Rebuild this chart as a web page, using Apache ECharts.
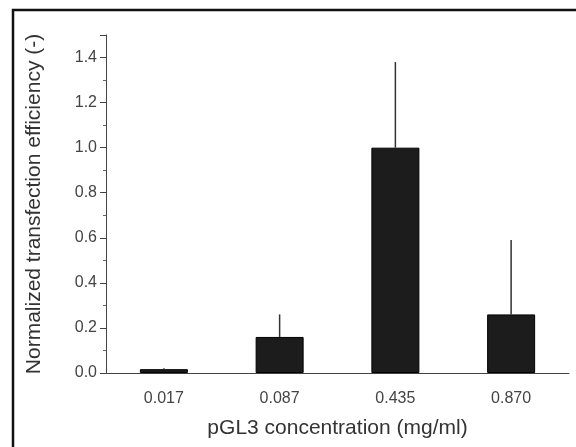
<!DOCTYPE html>
<html>
<head>
<meta charset="utf-8">
<script src="https://cdn.jsdelivr.net/npm/echarts@6/dist/echarts.min.js"></script>
<style>
  html, body { margin: 0; padding: 0; background: #fff; }
  #chart { width: 576px; height: 447px; }
</style>
</head>
<body>
<div id="chart"></div>
<script>
// pGL3 concentration (mg/ml)
var categories = ["0.017", "0.087", "0.435", "0.870"];
// normalized transfection efficiency
var means = [0.017, 0.16, 1.0, 0.26];
// upper error (sd)
var errors = [0.004, 0.10, 0.38, 0.33];

var chart = echarts.init(document.getElementById("chart"));

var font = "Liberation Sans";

var option = {
  animation: false,
  backgroundColor: "#fff",
  grid: { left: 106, right: 7, top: 35, bottom: 74 },
  graphic: [
    {
      type: "rect",
      shape: { x: 13, y: 10, width: 620, height: 520 },
      style: { fill: "none", stroke: "#111", lineWidth: 2.5 },
      z: 100
    }
  ],
  xAxis: [
    {
      type: "category",
      data: categories,
      name: "pGL3 concentration (mg/ml)",
      nameLocation: "middle",
      nameGap: 45,
      nameTextStyle: { fontFamily: font, fontSize: 21, color: "#333" },
      axisLine: { lineStyle: { color: "#444", width: 1 } },
      axisTick: { alignWithLabel: true, length: 6, lineStyle: { color: "#444" } },
      axisLabel: { fontFamily: font, fontSize: 16, color: "#444", margin: 18 },
      splitLine: { show: false }
    },
    {
      type: "category",
      data: categories,
      position: "bottom",
      axisLine: { show: false },
      axisTick: { inside: true, length: 4, lineStyle: { color: "#777" } },
      axisLabel: { show: false },
      splitLine: { show: false }
    }
  ],
  yAxis: {
    type: "value",
    min: 0,
    max: 1.5,
    interval: 0.2,
    name: "Normalized transfection efficiency (-)",
    nameLocation: "middle",
    nameGap: 61,
    nameTextStyle: { fontFamily: font, fontSize: 21, color: "#333" },
    axisLine: { show: true, lineStyle: { color: "#444", width: 1 } },
    axisTick: { show: true, length: 6, lineStyle: { color: "#444" } },
    minorTick: { show: true, splitNumber: 2, length: 3, lineStyle: { color: "#666" } },
    axisLabel: {
      fontFamily: font,
      fontSize: 16,
      color: "#444",
      margin: 9,
      showMaxLabel: false,
      formatter: function (v) { return v > 1.45 ? "" : v.toFixed(1); }
    },
    splitLine: { show: false }
  },
  series: [
    {
      type: "bar",
      data: means,
      barWidth: 48,
      itemStyle: { color: "#1c1c1c", borderColor: "#000", borderWidth: 1 }
    },
    {
      type: "custom",
      data: means.map(function (m, i) { return [i, m, m + errors[i]]; }),
      renderItem: function (params, api) {
        var lo = api.coord([api.value(0), api.value(1)]);
        var hi = api.coord([api.value(0), api.value(2)]);
        return {
          type: "line",
          shape: { x1: lo[0], y1: lo[1], x2: hi[0], y2: hi[1] },
          style: { stroke: "#333", lineWidth: 1.5 }
        };
      },
      z: 3
    }
  ]
};

chart.setOption(option);
</script>
</body>
</html>
